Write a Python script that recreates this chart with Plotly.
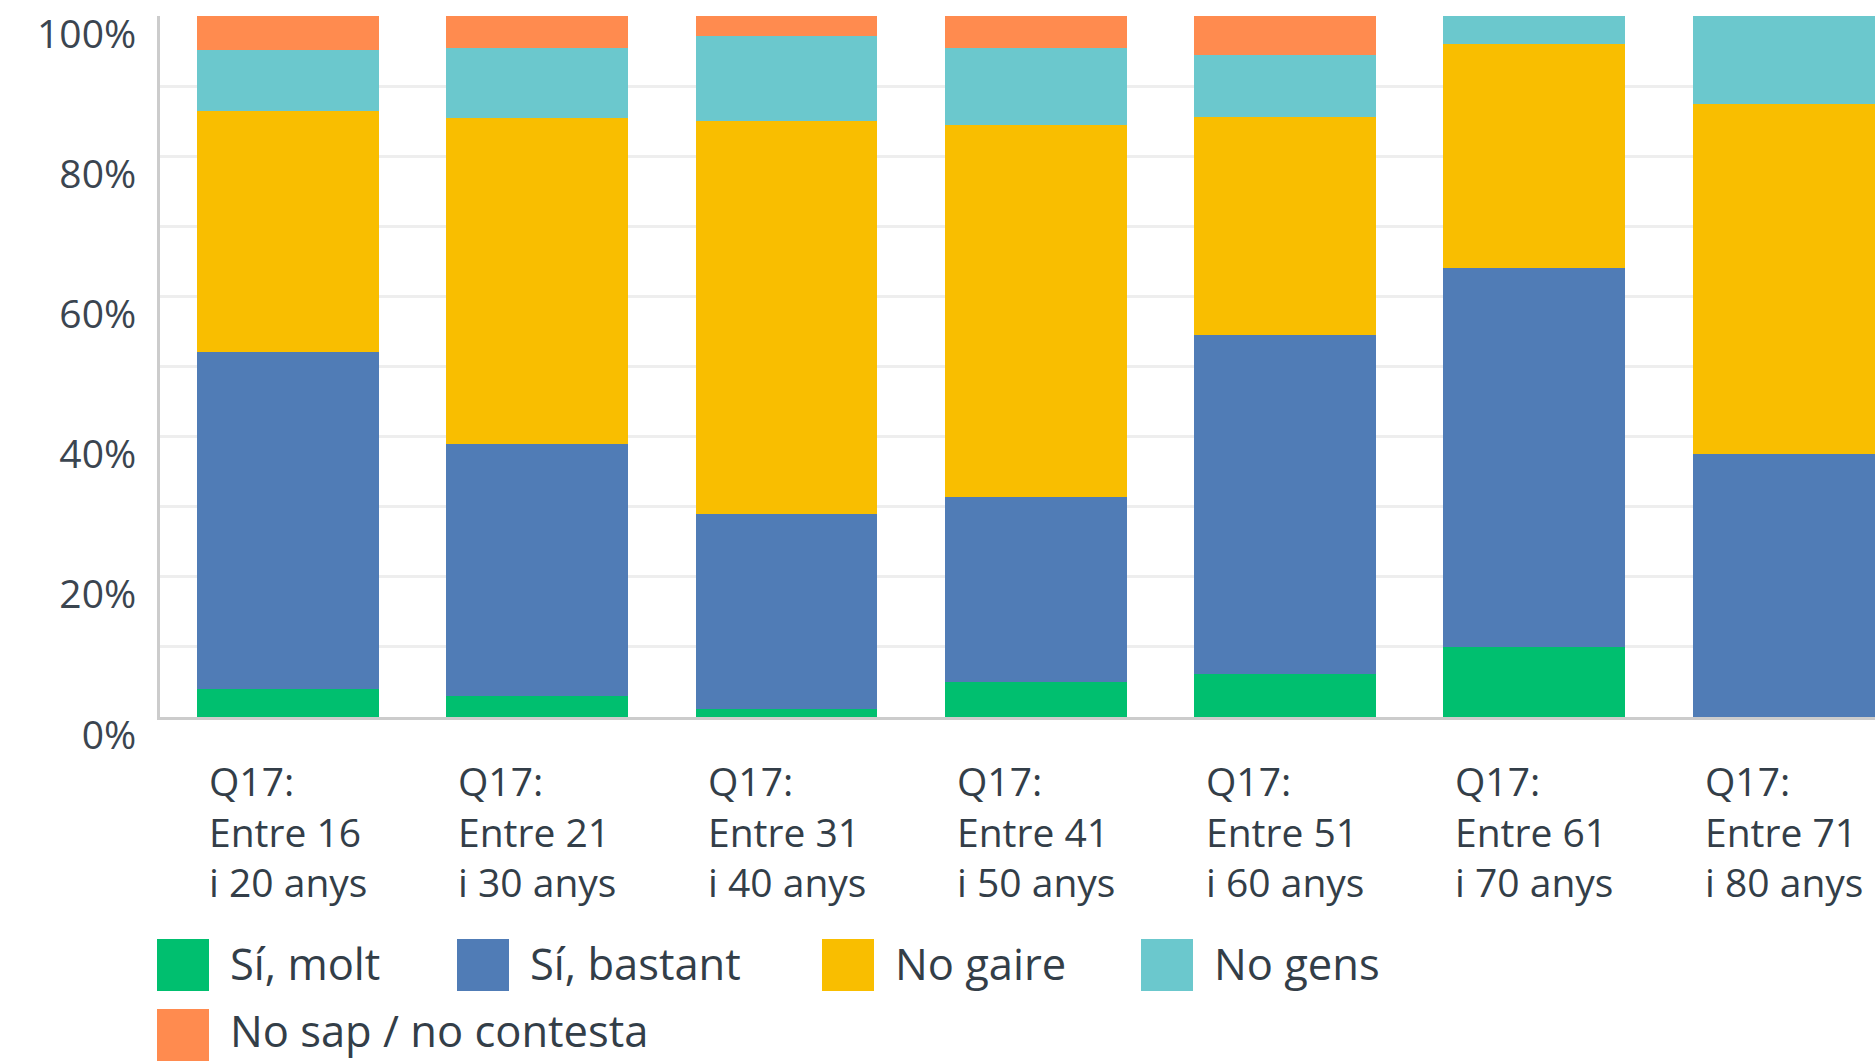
import plotly.graph_objects as go

# ---------------- data ----------------
categories = [
    "Q17:<br>Entre 16<br>i 20 anys",
    "Q17:<br>Entre 21<br>i 30 anys",
    "Q17:<br>Entre 31<br>i 40 anys",
    "Q17:<br>Entre 41<br>i 50 anys",
    "Q17:<br>Entre 51<br>i 60 anys",
    "Q17:<br>Entre 61<br>i 70 anys",
    "Q17:<br>Entre 71<br>i 80 anys",
]
series_names = ["Sí, molt", "Sí, bastant", "No gaire", "No gens", "No sap / no contesta"]
si_molt = [4.0, 3.0, 1.1, 5.0, 6.1, 10.0, 0.0]
si_bastant = [48.0, 36.0, 27.9, 26.4, 48.4, 54.0, 37.5]
no_gaire = [34.4, 46.5, 56.0, 53.0, 31.1, 32.0, 50.0]
no_gens = [8.7, 10.0, 12.1, 11.0, 8.9, 4.0, 12.5]
no_sap = [4.9, 4.5, 2.9, 4.6, 5.5, 0.0, 0.0]
series_values = [si_molt, si_bastant, no_gaire, no_gens, no_sap]

y_tick_values = [0, 20, 40, 60, 80, 100]
y_tick_labels = ["0%", "20%", "40%", "60%", "80%", "100%"]
grid_values = [10, 20, 30, 40, 50, 60, 70, 80, 90]

# ---------------- styling ----------------
colors = ["#00bf6f", "#507cb6", "#f9be00", "#6bc8cd", "#ff8b4f"]
TEXT = "#333e48"
FONT = "Open Sans"
W, H = 1875, 1061
L, R, T, B = 160, 0, 16, 344
PW, PH = W - L - R, H - T - B


def px_x(x):
    return (x - L) / PW


def px_y(y):
    return (H - B - y) / PH


fig = go.Figure()
for name, vals, col in zip(series_names, series_values, colors):
    fig.add_trace(go.Bar(
        x=categories, y=vals, name=name,
        marker=dict(color=col, line=dict(width=0)),
        showlegend=False,
    ))

fig.update_layout(
    barmode="stack", bargap=0.27,
    width=W, height=H,
    margin=dict(l=L, r=R, t=T, b=B, pad=0),
    plot_bgcolor="white", paper_bgcolor="white",
    font=dict(family=FONT, color=TEXT),
)
fig.update_xaxes(
    range=[-0.5135, 6.367], showticklabels=False, ticks="",
    showline=True, linecolor="#cccccc", linewidth=3, showgrid=False,
)
fig.update_yaxes(
    range=[0, 100], tickmode="array", tickvals=y_tick_values, ticktext=y_tick_labels,
    showgrid=False, zeroline=False,
    showline=True, linecolor="#cccccc", linewidth=3,
    ticks="outside", ticklen=0,
    tickfont=dict(size=39, color="#3b4550", family=FONT, weight=500),
    ticklabelshift=18, ticklabelstandoff=13,
    minor=dict(tickmode="array", tickvals=grid_values, ticks="inside", ticklen=0,
               showgrid=True, gridcolor="#eeeeee", gridwidth=3),
)

# category labels (left-aligned block, centred under each bar)
for cat in categories:
    fig.add_annotation(
        x=cat, xref="x", y=px_y(831), yref="paper",
        text=cat, showarrow=False, xanchor="center", yanchor="middle",
        align="left", font=dict(size=39, color=TEXT, family=FONT, weight=500),
    )

# custom legend with large swatches
legend_pos = [(157, 965), (457, 965), (822, 965), (1141, 965), (157, 1035)]
text_dy = [-2, -2, -2, -2, -5]
for name, col, (lx, ly), dy in zip(series_names, colors, legend_pos, text_dy):
    fig.add_shape(
        type="rect", xref="paper", yref="paper",
        x0=px_x(lx), x1=px_x(lx + 52), y0=px_y(ly + 26), y1=px_y(ly - 26),
        fillcolor=col, line=dict(width=0), layer="above",
    )
    fig.add_annotation(
        x=px_x(lx + 71), xref="paper", y=px_y(ly + dy), yref="paper",
        text=name, showarrow=False, xanchor="left", yanchor="middle",
        font=dict(size=43.5, color=TEXT, family=FONT, weight=500),
    )

fig.write_html(
    "out.html",
    config={"displayModeBar": False},
    post_script="document.body.style.margin='0';document.body.style.padding='0';",
)
